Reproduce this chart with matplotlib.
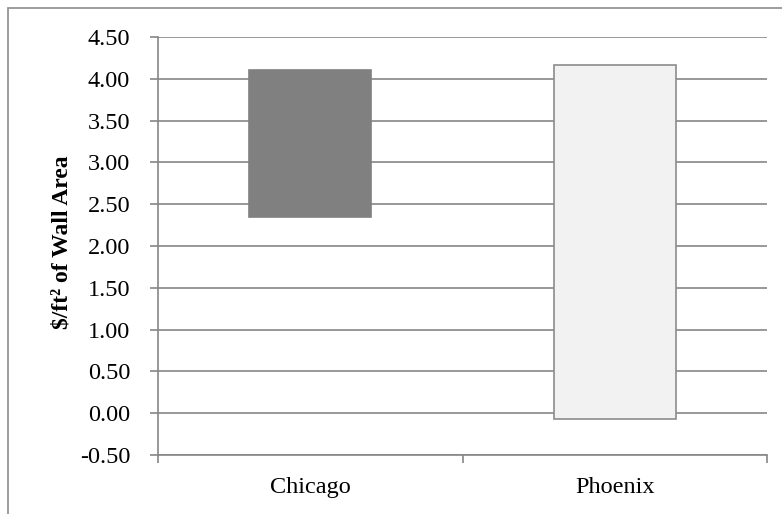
import matplotlib.pyplot as plt
from matplotlib.patches import Rectangle
from matplotlib.ticker import FormatStrFormatter, FixedLocator

cities = ['Chicago', 'Phoenix']
low = [2.35, -0.07]
high = [4.10, 4.16]
colors = ['#808080', '#F2F2F2']
edges = ['#808080', '#8C8C8C']

plt.rcParams['font.family'] = ['Liberation Serif', 'DejaVu Serif']
plt.rcParams['axes.unicode_minus'] = False

fig = plt.figure(figsize=(7.82, 5.14), dpi=100)
ax = fig.add_axes([158 / 782, 1 - 455 / 514, (767 - 158) / 782, (455 - 37) / 514])

grey = '#868686'
fs = 17.5
x = range(len(cities))
heights = [h - l for h, l in zip(high, low)]
ax.bar(x, heights, bottom=low, width=0.4, color=colors, edgecolor=edges,
       linewidth=1.2, zorder=3)

ax.set_xlim(-0.5, 1.5)
ax.set_ylim(-0.5, 4.5)
ax.yaxis.set_major_locator(FixedLocator([i * 0.5 - 0.5 for i in range(11)]))
ax.yaxis.set_major_formatter(FormatStrFormatter('%.2f'))
ax.grid(axis='y', color=grey, linewidth=1.2, zorder=0)

ax.set_xticks([-0.5, 0.5, 1.5])
ax.set_xticklabels([])
ax.set_xticks(list(x), minor=True)
ax.set_xticklabels(cities, minor=True)
ax.tick_params(axis='x', which='minor', length=0, pad=16, labelsize=fs)
ax.tick_params(axis='x', which='major', length=6, color=grey, width=1.2)
ax.tick_params(axis='y', length=6, color=grey, width=1.2, labelsize=fs, pad=14)

for s in ['top', 'right']:
    ax.spines[s].set_visible(False)
for s in ['left', 'bottom']:
    ax.spines[s].set_color(grey)
    ax.spines[s].set_linewidth(1.2)

ax.set_ylabel('$/ft² of Wall Area', fontsize=17, fontweight='bold')
ax.yaxis.set_label_coords(-0.141, 0.51)

fig.patches.append(Rectangle((8 / 782, -0.2), 1.2, 1.2 - 7.5 / 514,
                             transform=fig.transFigure, fill=False,
                             edgecolor='#8C8C8C', linewidth=1.2))

fig.savefig('out.png', dpi=100)
